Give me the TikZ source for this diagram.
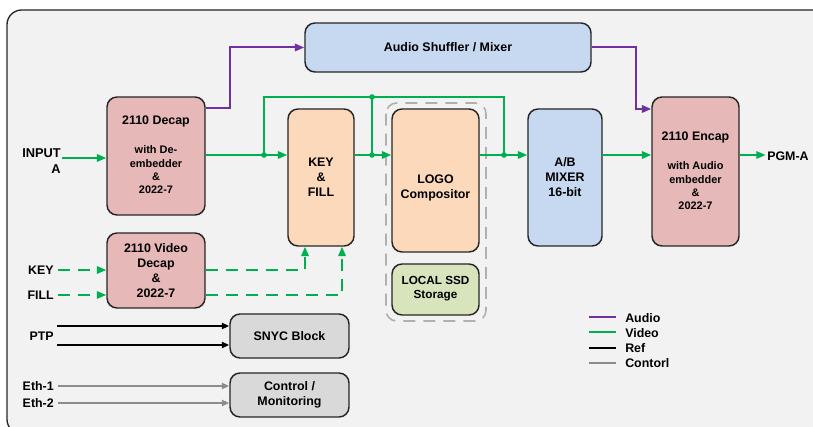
\documentclass[tikz,border=0pt]{standalone}
\usepackage{fontspec}
\setmainfont{Liberation Sans}
\usetikzlibrary{arrows.meta,fit}
\definecolor{bgfill}{HTML}{F2F2F2}
\definecolor{boxline}{HTML}{262626}
\definecolor{decfill}{HTML}{E6B8B7}
\definecolor{kffill}{HTML}{FCD9BA}
\definecolor{bluefill}{HTML}{C6D9F1}
\definecolor{ssdfill}{HTML}{D8E4BC}
\definecolor{grayfill}{HTML}{D9D9D9}
\definecolor{vidgreen}{HTML}{00B050}
\definecolor{audpurple}{HTML}{7030A0}
\definecolor{ctlgray}{HTML}{8C8C8C}
\definecolor{grpgray}{HTML}{B0B0B0}
\begin{document}
\begin{tikzpicture}[x=0.75pt,y=-0.75pt,
  font=\bfseries\fontsize{9.3}{11.3}\selectfont,
  box/.style={draw=boxline, line width=1.1pt, rounded corners=7.5pt, inner sep=0pt},
  lbl/.style={inner sep=0pt, align=center, text=black},
  sub/.style={lbl, font=\bfseries\fontsize{8.2}{10}\selectfont},
  vid/.style={draw=vidgreen, line width=1.5pt},
  aud/.style={draw=audpurple, line width=1.5pt},
  refl/.style={draw=black, line width=1.5pt},
  ctl/.style={draw=ctlgray, line width=1.5pt},
  vdash/.style={vid, dash pattern=on 9pt off 6pt},
  garr/.style={-{Triangle[length=7pt,width=5.5pt]}},
  sarr/.style={-{Triangle[length=5.5pt,width=4.5pt]}}
]
\useasboundingbox (0,0) rectangle (813,427);
\clip (0,0) rectangle (813,427);
\draw[fill=bgfill, draw=boxline, line width=1pt, rounded corners=11pt] (7,10) rectangle (828,434);

% dashed group
\draw[grpgray, line width=1.2pt, dash pattern=on 9pt off 6pt, rounded corners=8pt] (386,103) rectangle (486,321);

% boxes
\node[box, fill=decfill, fit={(107,97) (205,215)}] (dec) {};
\node[box, fill=bluefill, fit={(305,23) (591,72)}] (shuf) {};
\node[box, fill=kffill, fit={(288,109) (354,246)}] (kf) {};
\node[box, fill=kffill, fit={(392,109) (479,252)}] (logo) {};
\node[box, fill=ssdfill, fit={(392,264) (479,315)}] (ssd) {};
\node[box, fill=bluefill, fit={(528,109) (602,246)}] (mix) {};
\node[box, fill=decfill, fit={(652,97) (739,246)}] (enc) {};
\node[box, fill=decfill, fit={(107,233) (205,308)}] (vdec) {};
\node[box, fill=grayfill, fit={(230,314) (349,358)}] (sync) {};
\node[box, fill=grayfill, fit={(230,373) (349,417)}] (ctrl) {};

% box texts
\node[lbl] (dect) at (156,121) {2110 Decap};
\node[sub] (decs) at (156,170) {with De-\\embedder\\\&\\2022-7};
\node[lbl] (shuft) at (448,47) {Audio Shuffler / Mixer};
\node[lbl] (kft) at (321,177) {KEY\\\&\\FILL};
\node[lbl] (logot) at (435.5,187.5) {LOGO\\Compositor};
\node[lbl, font=\bfseries\fontsize{8.8}{10.5}\selectfont] (ssdt) at (435.5,289) {LOCAL SSD\\Storage};
\node[lbl] (mixt) at (565,177) {A/B\\MIXER\\16-bit};
\node[lbl] (enct) at (695.5,137) {2110 Encap};
\node[sub] (encs) at (695.5,186) {with Audio\\embedder\\\&\\2022-7};
\node[lbl] (vdect) at (156,270.5) {2110 Video\\Decap\\\&\\2022-7};
\node[lbl] (synct) at (289.5,336) {SNYC Block};
\node[lbl] (ctrlt) at (289.5,394.5) {Control /\\Monitoring};

% outside labels
\node[lbl, align=right, anchor=east, font=\bfseries\fontsize{9.6}{12}\selectfont] (inA) at (61,161) {INPUT\\A};
\node[lbl, anchor=east] (key) at (54,270) {KEY};
\node[lbl, anchor=east] (fill) at (54,295) {FILL};
\node[lbl, anchor=east] (ptp) at (54,336) {PTP};
\node[lbl, anchor=east] (eth1) at (54,386) {Eth-1};
\node[lbl, anchor=east] (eth2) at (54,403) {Eth-2};
\node[lbl, anchor=west] (pgm) at (767,156) {PGM-A};

% coordinates
\coordinate (j1) at (264,155);
\coordinate (j2) at (372,155);
\coordinate (j3) at (504,155);
\coordinate (t1) at (264,97);
\coordinate (t2) at (372,97);
\coordinate (t3) at (504,97);
\coordinate (inAs) at (62,158);
\coordinate (ka) at (305,270);
\coordinate (fa) at (342,295);
\coordinate (pa) at (230,108);
\coordinate (pb) at (636,109);

% video
\draw[vid, garr] (inAs) -- (dec.west |- inAs);
\draw[vid, garr] (dec.east |- j1) -- (kf.west |- j1);
\draw[vid] (j1) -- (t1) -- (t3) -- (j3);
\draw[vid] (t2) -- (j2);
\draw[vid, garr] (kf.east |- j2) -- (logo.west |- j2);
\draw[vid, garr] (logo.east |- j3) -- (mix.west |- j3);
\draw[vid, garr] (mix.east |- j3) -- (enc.west |- j3);
\draw[vid, garr] (enc.east |- j3) -- ([xshift=-1pt]pgm.west |- j3);
\foreach \p in {j1,j2,j3,t2} \fill[vidgreen] (\p) circle[radius=2.1pt];

% audio
\draw[aud, garr] (dec.east |- pa) -- (pa) -- (pa |- shuf.west) -- (shuf.west);
\draw[aud, garr] (shuf.east) -- (pb |- shuf.east) -- (pb) -- (enc.west |- pb);

% key/fill dashed
\draw[vdash, garr, shorten <=3pt] (key.east) -- (vdec.west |- key.east);
\draw[vdash, garr, shorten <=3pt] (fill.east) -- (vdec.west |- fill.east);
\draw[vdash, garr] (vdec.east |- ka) -- (ka) -- (ka |- kf.south);
\draw[vdash, garr] (vdec.east |- fa) -- (fa) -- (fa |- kf.south);

% ref
\coordinate (r1) at (57,326);
\coordinate (r2) at (57,345);
\draw[refl, sarr] (r1) -- (sync.west |- r1);
\draw[refl, sarr] (r2) -- (sync.west |- r2);

% control
\draw[ctl, sarr, shorten <=3pt] (eth1.east) -- (ctrl.west |- eth1.east);
\draw[ctl, sarr, shorten <=3pt] (eth2.east) -- (ctrl.west |- eth2.east);

% legend
\coordinate (l1a) at (589,317); \coordinate (l1b) at (616,317);
\coordinate (l2a) at (589,332); \coordinate (l2b) at (616,332);
\coordinate (l3a) at (589,348); \coordinate (l3b) at (616,348);
\coordinate (l4a) at (589,363); \coordinate (l4b) at (616,363);
\draw[aud] (l1a) -- (l1b);
\draw[vid] (l2a) -- (l2b);
\draw[refl] (l3a) -- (l3b);
\draw[ctl] (l4a) -- (l4b);
\node[lbl, anchor=west] (lg1) at (625,318) {Audio};
\node[lbl, anchor=west] (lg2) at (625,333) {Video};
\node[lbl, anchor=west] (lg3) at (625,348) {Ref};
\node[lbl, anchor=west] (lg4) at (625,363) {Contorl};
\end{tikzpicture}
\end{document}
